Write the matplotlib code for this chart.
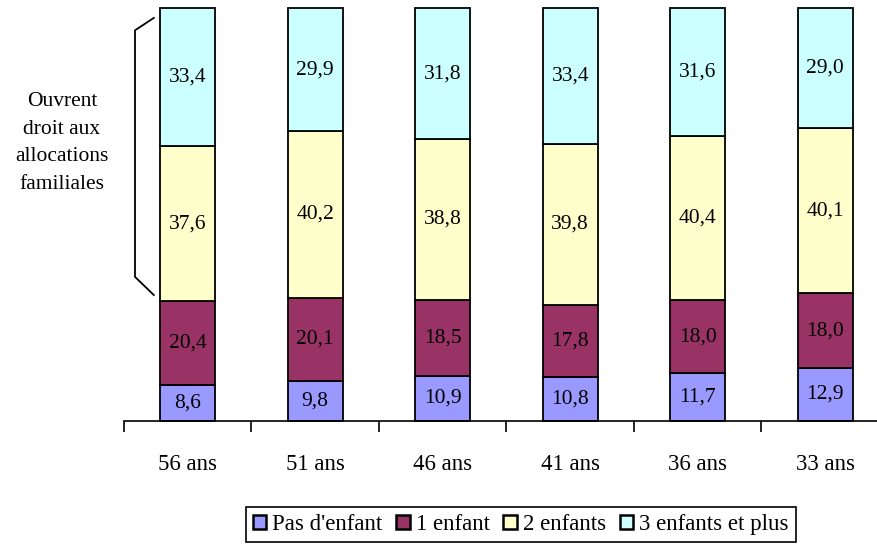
import numpy as np
import matplotlib.pyplot as plt
from matplotlib.transforms import blended_transform_factory

plt.rcParams['font.family'] = ['Liberation Serif', 'DejaVu Serif']

ages = ['56 ans', '51 ans', '46 ans', '41 ans', '36 ans', '33 ans']
pas_enfant = [8.6, 9.8, 10.9, 10.8, 11.7, 12.9]
un_enfant = [20.4, 20.1, 18.5, 17.8, 18.0, 18.0]
deux_enfants = [37.6, 40.2, 38.8, 39.8, 40.4, 40.1]
trois_plus = [33.4, 29.9, 31.8, 33.4, 31.6, 29.0]

series = [
    ("Pas d'enfant", pas_enfant, '#9999FF'),
    ('1 enfant', un_enfant, '#993366'),
    ('2 enfants', deux_enfants, '#FFFFCC'),
    ('3 enfants et plus', trois_plus, '#CCFFFF'),
]

fig = plt.figure(figsize=(8.78, 5.44), dpi=100)
ax = fig.add_axes([0.1412, 0.2261, 0.8713, 0.7592])

x = np.arange(len(ages))
# barres empilées à 100 %
total = np.sum([np.array(s[1]) for s in series], axis=0)
bottom = np.zeros(len(ages))
for name, vals, col in series:
    vals = np.array(vals)
    h = vals / total * 100
    ax.bar(x, h, 0.43, bottom=bottom, color=col, edgecolor='black',
           linewidth=1.3, label=name, clip_on=False)
    for xi, b, hh, v in zip(x, bottom, h, vals):
        ax.text(xi, b + hh / 2, f'{v:.1f}'.replace('.', ','), ha='center',
                va='center', fontsize=15.5)
    bottom += h

ax.set_xlim(-0.5, len(ages) - 0.5)
ax.set_ylim(0, 100)
for s in ['left', 'right', 'top']:
    ax.spines[s].set_visible(False)
ax.spines['bottom'].set_linewidth(1.2)
ax.set_yticks([])
ax.set_xticks(x)
ax.set_xticklabels(ages, fontsize=16.5)
ax.tick_params(axis='x', which='major', length=0, pad=24)
ax.set_xticks(np.arange(len(ages) + 1) - 0.5, minor=True)
ax.tick_params(axis='x', which='minor', length=8, width=1.2, direction='out')

# accolade sur les ménages ouvrant droit aux allocations
lo = (pas_enfant[0] + un_enfant[0]) / total[0] * 100 + 1.5
hi = 97.6
tr = blended_transform_factory(ax.transAxes, ax.transData)
ax.plot([0.039, 0.0144, 0.0144, 0.039], [hi, hi - 3, lo + 4.4, lo],
        color='black', lw=1.3, transform=tr, clip_on=False)
fig.text(62 / 878, 1 - 143 / 544, 'Ouvrent\ndroit aux\nallocations\nfamiliales',
         ha='center', va='center', fontsize=15.5, linespacing=1.6)

leg = fig.legend(loc='upper center', bbox_to_anchor=(0.593, 0.068), ncol=4,
                 fontsize=16.5, handlelength=0.6, handleheight=0.6,
                 handletextpad=0.25, columnspacing=0.6, borderpad=0.3,
                 borderaxespad=0, fancybox=False, edgecolor='black',
                 framealpha=1)
leg.get_frame().set_linewidth(1.2)
for p in leg.get_patches():
    p.set_linewidth(1.8)

fig.savefig('out.png', dpi=100)
